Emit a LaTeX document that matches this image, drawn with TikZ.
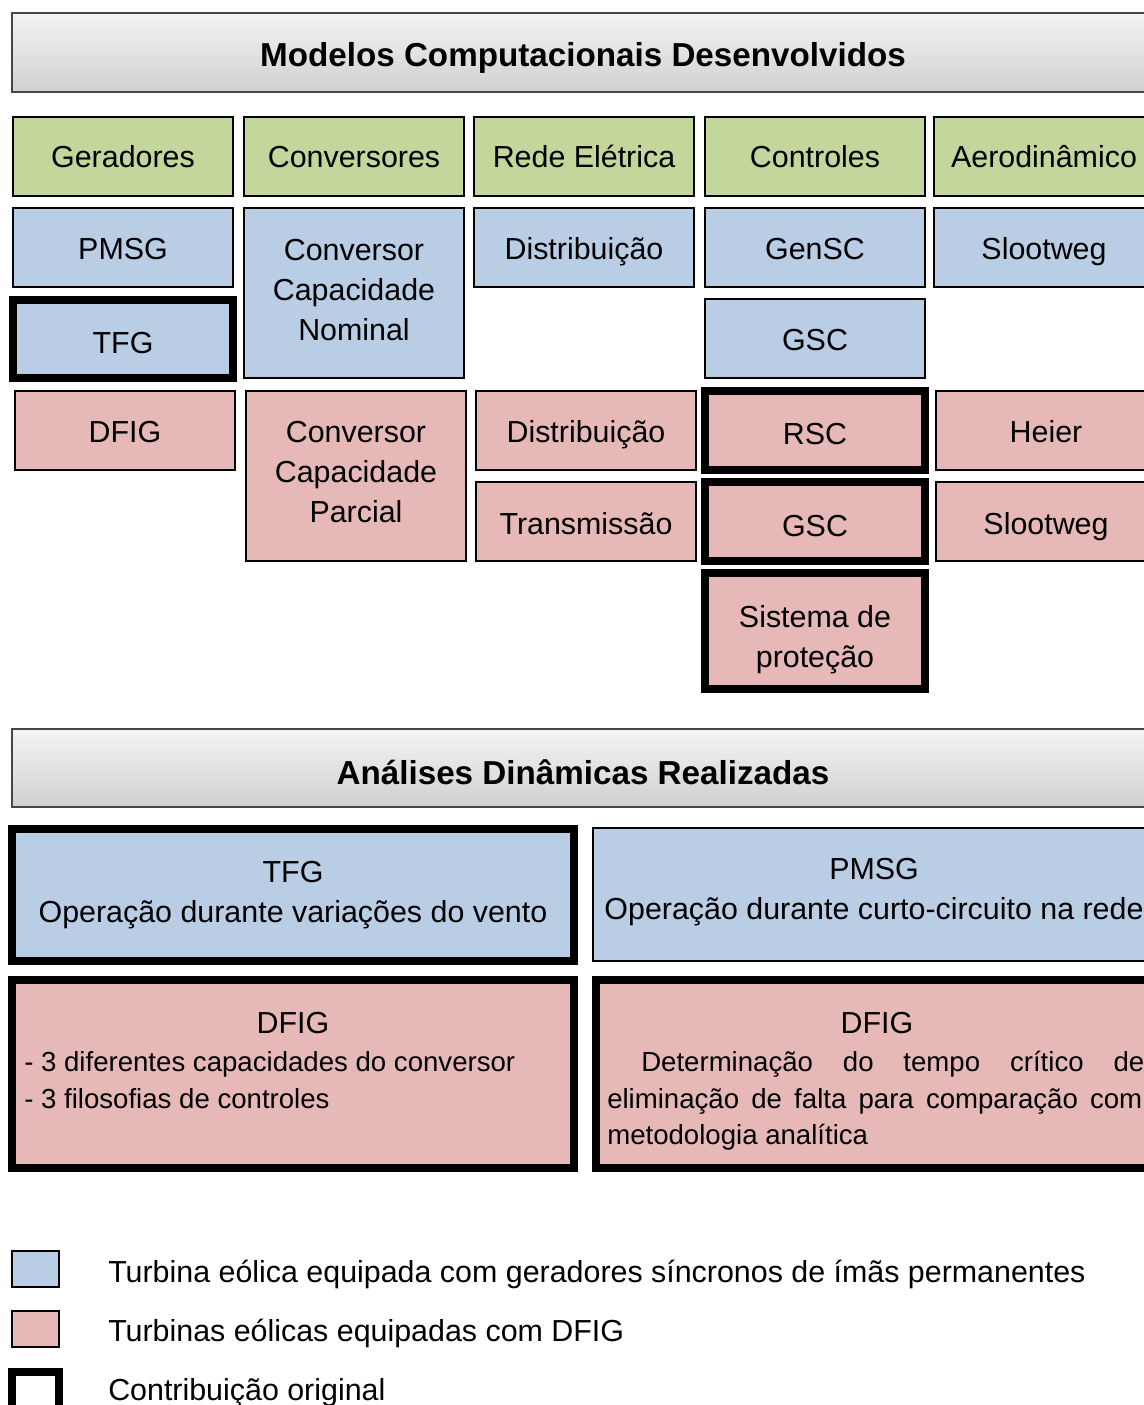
\documentclass[tikz,border=0pt]{standalone}
\usepackage{fontspec}
\setmainfont{Liberation Sans}
\definecolor{cgreen}{RGB}{195,214,155}
\definecolor{cblue}{RGB}{185,205,229}
\definecolor{cpink}{RGB}{230,185,184}
\definecolor{hdrborder}{RGB}{70,70,70}
\definecolor{hdrtop}{RGB}{244,244,244}
\definecolor{hdrbot}{RGB}{208,208,208}
\tikzset{
  cbox/.style={draw=black, line width=1.3pt, inner sep=0pt, outer sep=0pt, rectangle},
  gbox/.style={cbox, fill=cgreen},
  bbox/.style={cbox, fill=cblue},
  pbox/.style={cbox, fill=cpink},
  wbox/.style={cbox, fill=white},
  orig/.style={line width=6pt},
  hdr/.style={draw=hdrborder, line width=1.3pt, top color=hdrtop, bottom color=hdrbot, inner sep=0pt, outer sep=0pt, rectangle},
  lbl/.style={anchor=base, inner sep=0pt, font=\fontsize{22.8}{27}\selectfont},
  lgd/.style={anchor=base west, inner sep=0pt, font=\fontsize{22.8}{27}\selectfont},
  bodytxt/.style={anchor=base west, inner sep=0pt, font=\fontsize{20.7}{25}\selectfont},
  ttl/.style={anchor=base, inner sep=0pt, font=\fontsize{24.9}{29}\selectfont\bfseries},
}
\newcommand\bx[6]{\node[#6, minimum width={(#4-#2)*0.75pt}, minimum height={(#5-#3)*0.75pt}] (#1) at ({(#2+#4)/2},{(#3+#5)/2}) {};}
\begin{document}
\begin{tikzpicture}[x=0.75pt, y=-0.75pt]
\useasboundingbox (0,0) rectangle (1144,1405);
\clip (0,0) rectangle (1144,1405);
% header 1
\bx{h1}{12}{13}{1170}{92}{hdr}
\node[ttl] (t1) at (583,67) {Modelos Computacionais Desenvolvidos};
% green row
\bx{g1}{13}{117}{233}{196}{gbox}
\bx{g2}{244}{117}{464}{196}{gbox}
\bx{g3}{474}{117}{694}{196}{gbox}
\bx{g4}{705}{117}{925}{196}{gbox}
\bx{g5}{934}{117}{1154}{196}{gbox}
\node[lbl] (tg1) at (123,168) {Geradores};
\node[lbl] (tg2) at (354,168) {Conversores};
\node[lbl] (tg3) at (584,168) {Rede Elétrica};
\node[lbl] (tg4) at (815,168) {Controles};
\node[lbl] (tg5) at (1044,168) {Aerodinâmico};
% blue boxes
\bx{b1}{13}{208}{233}{287}{bbox}
\bx{b2}{13}{300}{233}{378}{bbox,orig}
\bx{b3}{244}{208}{464}{378}{bbox}
\bx{b4}{474}{208}{694}{287}{bbox}
\bx{b5}{705}{208}{925}{287}{bbox}
\bx{b6}{705}{299}{925}{378}{bbox}
\bx{b7}{934}{208}{1154}{287}{bbox}
\node[lbl] (tb1) at (123,259) {PMSG};
\node[lbl] (tb2) at (123,353) {TFG};
\node[lbl] (tb3a) at (354,260) {Conversor};
\node[lbl] (tb3b) at (354,300) {Capacidade};
\node[lbl] (tb3c) at (354,340) {Nominal};
\node[lbl] (tb4) at (584,259) {Distribuição};
\node[lbl] (tb5) at (815,259) {GenSC};
\node[lbl] (tb6) at (815,350) {GSC};
\node[lbl] (tb7) at (1044,259) {Slootweg};
% pink boxes
\bx{p1}{15}{391}{235}{470}{pbox}
\bx{p2}{246}{391}{466}{561}{pbox}
\bx{p3}{476}{391}{696}{470}{pbox}
\bx{p4}{476}{482}{696}{561}{pbox}
\bx{p5}{705}{391}{925}{470}{pbox,orig}
\bx{p6}{705}{482}{925}{561}{pbox,orig}
\bx{p7}{705}{573}{925}{689}{pbox,orig}
\bx{p8}{936}{391}{1156}{470}{pbox}
\bx{p9}{936}{482}{1156}{561}{pbox}
\node[lbl] (tp1) at (125,442) {DFIG};
\node[lbl] (tp2a) at (356,442) {Conversor};
\node[lbl] (tp2b) at (356,482) {Capacidade};
\node[lbl] (tp2c) at (356,522) {Parcial};
\node[lbl] (tp3) at (586,442) {Distribuição};
\node[lbl] (tp4) at (586,534) {Transmissão};
\node[lbl] (tp5) at (815,444) {RSC};
\node[lbl] (tp6) at (815,536) {GSC};
\node[lbl] (tp7a) at (815,627) {Sistema de};
\node[lbl] (tp7b) at (815,667) {proteção};
\node[lbl] (tp8) at (1046,442) {Heier};
\node[lbl] (tp9) at (1046,534) {Slootweg};
% header 2
\bx{h2}{12}{729}{1170}{807}{hdr}
\node[ttl] (t2) at (583,784) {Análises Dinâmicas Realizadas};
% analysis boxes
\bx{a1}{11.5}{829}{574}{961}{bbox,orig}
\bx{a2}{593}{828}{1155}{961}{bbox}
\bx{a3}{11.5}{980}{574}{1168}{pbox,orig}
\bx{a4}{596}{980}{1165}{1168}{pbox,orig}
\node[lbl] (ta1a) at (293,882) {TFG};
\node[lbl] (ta1b) at (293,922) {Operação durante variações do vento};
\node[lbl] (ta2a) at (874,879) {PMSG};
\node[lbl] (ta2b) at (874,919) {Operação durante curto-circuito na rede};
\node[lbl] (ta3a) at (293,1033) {DFIG};
\node[bodytxt] (ta3b) at (24,1071) {- 3 diferentes capacidades do conversor};
\node[bodytxt] (ta3c) at (24,1108) {- 3 filosofias de controles};
\node[lbl] (ta4a) at (877,1033) {DFIG};
\node[bodytxt] (ta4b) at (641,1071) {\makebox[377.25pt][s]{Determinação do tempo crítico de}};
\node[bodytxt] (ta4c) at (607,1108) {\makebox[401.25pt][s]{eliminação de falta para comparação com}};
\node[bodytxt] (ta4d) at (607,1144) {metodologia analítica};
% legend
\bx{l1}{12}{1251}{59}{1287}{bbox}
\bx{l2}{12}{1311}{59}{1347}{pbox}
\bx{l3}{11.5}{1371.5}{58.5}{1420}{wbox,orig}
\node[lgd] (tl1) at (108,1282) {Turbina eólica equipada com geradores síncronos de ímãs permanentes};
\node[lgd] (tl2) at (108,1341) {Turbinas eólicas equipadas com DFIG};
\node[lgd] (tl3) at (108,1400) {Contribuição original};
\end{tikzpicture}
\end{document}
